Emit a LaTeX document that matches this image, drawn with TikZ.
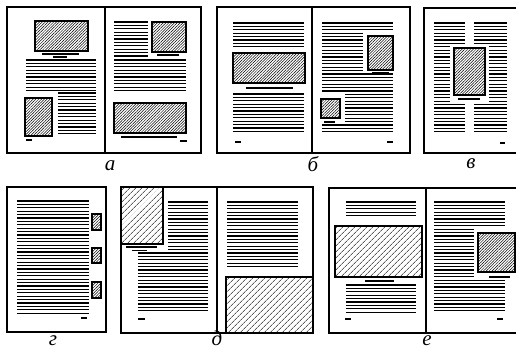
\documentclass[tikz,border=0pt]{standalone}
\usepackage{fontspec}
\setmainfont{Liberation Serif}
\usetikzlibrary{patterns.meta}

% a block of text lines: x from, x to, first y, number of lines
\newcommand{\txt}[4]{%
  \foreach \k in {1,...,#4}
    \draw[txtline] (#1,{#3+(\k-1)*3.4}) -- (#2,{#3+(\k-1)*3.4});}

\begin{document}
\begin{tikzpicture}[
        x=1pt, y=-1pt,
        page/.style={line width=1.8pt},
        txtline/.style={line width=1.3pt},
        capline/.style={line width=1.4pt},
        folio/.style={line width=1.8pt},
        smallpic/.style={draw, line width=1.8pt,
            pattern={Lines[angle=45,distance=2pt,line width=0.5pt]}},
        bigpic/.style={draw, line width=1.6pt,
            pattern={Lines[angle=45,distance=4pt,line width=0.6pt]}},
        letter/.style={font=\itshape\fontsize{21}{21}\selectfont, inner sep=0pt}
    ]
    \useasboundingbox (0,0) rectangle (516,350);

    % spread a
    \draw[page] (7,7) rectangle (201,153);
    \draw[page] (105,7) -- (105,153);
    \draw[smallpic] (35,21) rectangle (88,51);
    \draw[capline] (42,54) -- (79,54);
    \draw[capline] (53,57) -- (67,57);
    \txt{26}{96}{60}{10}
    \draw[smallpic] (25,98) rectangle (52,136);
    \txt{58}{96}{93}{13}
    \draw[folio] (26,140) -- (32,140);
    \txt{114}{148}{22}{11}
    \draw[smallpic] (152,22) rectangle (186,52);
    \draw[capline] (157,55) -- (179,55);
    \txt{114}{186}{60}{10}
    \draw[smallpic] (114,103) rectangle (186,133);
    \draw[capline] (121,137) -- (177,137);
    \draw[folio] (180,141) -- (187,141);
    \node[letter] (la) at (110,166) {а};

    % spread b
    \draw[page] (217,7) rectangle (410,153);
    \draw[page] (312,7) -- (312,153);
    \txt{233}{304}{23}{8}
    \draw[smallpic] (233,53) rectangle (305,83);
    \draw[capline] (246,88) -- (293,88);
    \txt{233}{304}{94}{12}
    \draw[folio] (235,142) -- (241,142);
    \txt{322}{393}{23}{3}
    \txt{322}{363}{33.2}{12}
    \txt{322}{393}{74}{6}
    \txt{345}{393}{94.4}{9}
    \txt{322}{393}{125}{3}
    \draw[smallpic] (368,36) rectangle (393,70);
    \draw[capline] (372,73) -- (389,73);
    \draw[smallpic] (321,99) rectangle (340,118);
    \draw[capline] (324,122) -- (335,122);
    \draw[folio] (387,142) -- (393,142);
    \node[letter] (lb) at (313,164) {б};

    % page v (cut at the right edge)
    \draw[page] (518,8) -- (424,8) -- (424,153) -- (518,153);
    \txt{434}{465}{23}{7}
    \txt{474}{507}{23}{7}
    \txt{434}{450}{46.8}{17}
    \txt{489}{507}{46.8}{17}
    \txt{434}{465}{104.6}{9}
    \txt{474}{507}{104.6}{9}
    \draw[smallpic] (454,48) rectangle (485,95);
    \draw[capline] (458,99) -- (480,99);
    \draw[folio] (500,143) -- (505,143);
    \node[letter] (lv) at (471,164) {в};

    % page g
    \draw[page] (7,187) rectangle (106,332);
    \txt{17}{89}{201}{34}
    \draw[smallpic] (92,214) rectangle (101,230);
    \draw[smallpic] (92,248) rectangle (101,263);
    \draw[smallpic] (92,282) rectangle (101,298);
    \draw[folio] (81,318) -- (87,318);
    \node[letter] (lg) at (53,341) {г};

    % spread d
    \draw[page] (121,187) rectangle (313,333);
    \draw[page] (217,187) -- (217,333);
    \draw[bigpic] (121,187) rectangle (163,244);
    \draw[capline] (126,247) -- (157,247);
    \draw[capline] (132,250.5) -- (147,250.5);
    \txt{168}{208}{202}{15}
    \txt{138}{208}{253}{18}
    \draw[folio] (138,319) -- (145,319);
    \txt{227}{298}{202}{20}
    \draw[bigpic] (226,277) rectangle (313,333);
    \node[letter] (ld) at (217,338) {д};

    % spread e (cut at the right edge)
    \draw[page] (518,188) -- (329,188) -- (329,333) -- (518,333);
    \draw[page] (426,188) -- (426,333);
    \txt{346}{416}{202}{5}
    \draw[bigpic] (335,226) rectangle (422,277);
    \draw[capline] (365,281) -- (394,281);
    \txt{346}{416}{285}{9}
    \draw[folio] (345,319) -- (351,319);
    \txt{434}{505}{202}{8}
    \txt{434}{474}{229.2}{15}
    \txt{434}{505}{280.2}{10}
    \draw[smallpic] (478,233) rectangle (515,272);
    \draw[capline] (489,277) -- (510,277);
    \draw[folio] (497,319) -- (503,319);
    \node[letter] (le) at (427,341) {е};
\end{tikzpicture}
\end{document}
